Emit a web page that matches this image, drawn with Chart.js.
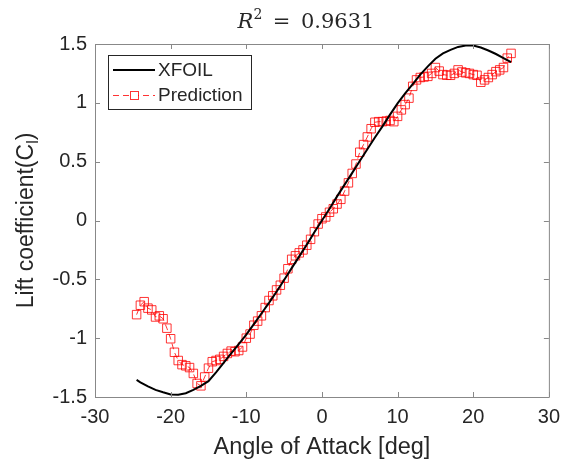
<!DOCTYPE html>
<html>
<head>
<meta charset="utf-8">
<script src="https://cdn.jsdelivr.net/npm/chart.js@4/dist/chart.umd.min.js"></script>
<style>
  html, body { margin: 0; padding: 0; background: #fff; }
  canvas { display: block; }
</style>
</head>
<body>
<canvas id="clChart" width="568" height="462"></canvas>
<script>
// XFOIL reference curve (deg, Cl)
const xfoilAlpha = [-24.5, -24, -23, -22, -21, -20, -19, -18, -17, -16, -15, -14, -13, -12, -11, -10,
  -9, -8, -7, -6, -5, -4, -3, -2, -1, 0, 1, 2, 3, 4, 5, 6, 7, 8, 9, 10,
  11, 12, 13, 14, 15, 16, 17, 18, 19, 20, 21, 22, 23, 24, 25];
const xfoilCl = [-1.355, -1.375, -1.41, -1.44, -1.46, -1.478, -1.48, -1.468, -1.44, -1.405, -1.365, -1.29, -1.21, -1.13, -1.05, -0.97,
  -0.88, -0.79, -0.70, -0.605, -0.505, -0.405, -0.305, -0.205, -0.10, 0.0, 0.10, 0.205, 0.305, 0.405, 0.505, 0.605, 0.705, 0.80, 0.90, 0.995,
  1.08, 1.16, 1.24, 1.31, 1.375, 1.42, 1.45, 1.475, 1.488, 1.487, 1.47, 1.445, 1.415, 1.38, 1.345];

// predicted Cl, one point every 0.5 deg
const predAlpha = [-24.5, -24, -23.5, -23, -22.5, -22, -21.5, -21, -20.5, -20,
  -19.5, -19, -18.5, -18, -17.5, -17, -16.5, -16, -15.5, -15,
  -14.5, -14, -13.5, -13, -12.5, -12, -11.5, -11, -10.5, -10,
  -9.5, -9, -8.5, -8, -7.5, -7, -6.5, -6, -5.5, -5,
  -4.5, -4, -3.5, -3, -2.5, -2, -1.5, -1, -0.5, 0,
  0.5, 1, 1.5, 2, 2.5, 3, 3.5, 4, 4.5, 5,
  5.5, 6, 6.5, 7, 7.5, 8, 8.5, 9, 9.5, 10,
  10.5, 11, 11.5, 12, 12.5, 13, 13.5, 14, 14.5, 15,
  15.5, 16, 16.5, 17, 17.5, 18, 18.5, 19, 19.5, 20,
  20.5, 21, 21.5, 22, 22.5, 23, 23.5, 24, 24.5, 25];
const predCl = [-0.80, -0.72, -0.69, -0.745, -0.76, -0.82, -0.81, -0.835, -0.915, -1.005,
  -1.12, -1.19, -1.225, -1.235, -1.25, -1.30, -1.385, -1.405, -1.33, -1.255,
  -1.20, -1.19, -1.18, -1.155, -1.13, -1.11, -1.115, -1.105, -1.075, -1.00,
  -0.965, -0.89, -0.855, -0.81, -0.74, -0.68, -0.64, -0.59, -0.55, -0.49,
  -0.41, -0.33, -0.30, -0.275, -0.25, -0.21, -0.16, -0.095, -0.03, 0.015,
  0.03, 0.07, 0.10, 0.14, 0.18, 0.25, 0.32, 0.40, 0.48, 0.58,
  0.645, 0.71, 0.78, 0.835, 0.84, 0.84, 0.845, 0.85, 0.84, 0.885,
  0.94, 0.985, 1.04, 1.14, 1.195, 1.215, 1.22, 1.225, 1.25, 1.30,
  1.27, 1.24, 1.235, 1.234, 1.25, 1.28, 1.262, 1.255, 1.25, 1.24,
  1.234, 1.175, 1.195, 1.215, 1.24, 1.265, 1.28, 1.30, 1.38, 1.42];

const xTicks = [-30, -20, -10, 0, 10, 20, 30];
const yTicks = [-1.5, -1, -0.5, 0, 0.5, 1, 1.5];

const textColor = '#262626';
const axisColor = '#888888';
const predColor = 'rgba(255, 0, 0, 0.8)';
const sansFont = '"Liberation Sans", Arial, sans-serif';
const serifFont = '"DejaVu Serif", serif';

Chart.defaults.font.family = sansFont;
Chart.defaults.color = textColor;

// box around the axes with inward ticks on all four sides
const framePlugin = {
  id: 'frame',
  afterDatasetsDraw(chart) {
    const { ctx, chartArea: a, scales: { x, y } } = chart;
    ctx.save();
    ctx.strokeStyle = axisColor;
    ctx.lineWidth = 1;
    ctx.beginPath();
    ctx.rect(a.left + 0.5, a.top + 0.5, a.right - a.left, a.bottom - a.top);
    x.ticks.forEach(t => {
      const px = Math.round(x.getPixelForValue(t.value)) + 0.5;
      ctx.moveTo(px, a.bottom); ctx.lineTo(px, a.bottom - 5);
      ctx.moveTo(px, a.top); ctx.lineTo(px, a.top + 5);
    });
    y.ticks.forEach(t => {
      const py = Math.round(y.getPixelForValue(t.value)) + 0.5;
      ctx.moveTo(a.left, py); ctx.lineTo(a.left + 5, py);
      ctx.moveTo(a.right, py); ctx.lineTo(a.right - 5, py);
    });
    ctx.stroke();
    ctx.restore();
  }
};

// R^2 title and y label with subscript
const textPlugin = {
  id: 'texts',
  afterDraw(chart) {
    const { ctx, chartArea: a } = chart;
    ctx.save();
    ctx.fillStyle = textColor;
    ctx.textBaseline = 'alphabetic';

    // title
    const big = '21px ' + serifFont;
    const parts = [
      { t: 'R', f: 'italic ' + big, dy: 0 },
      { t: '2', f: '14px ' + serifFont, dy: -9 },
      { t: '\u2002=\u2002', f: big, dy: 0 },
      { t: '0.9631', f: big, dy: 0 }
    ];
    let total = 0;
    parts.forEach(p => { ctx.font = p.f; p.w = ctx.measureText(p.t).width; total += p.w; });
    let tx = 306 - total / 2;
    parts.forEach(p => {
      ctx.font = p.f;
      ctx.fillText(p.t, tx, 28 + p.dy);
      tx += p.w;
    });

    // y axis label
    ctx.translate(33, (a.top + a.bottom) / 2);
    ctx.rotate(-Math.PI / 2);
    const main = '23px ' + sansFont, sub = '16px ' + sansFont;
    const segs = [
      { t: 'Lift coefficient(C', f: main, dy: 0 },
      { t: 'l', f: sub, dy: 5 },
      { t: ')', f: main, dy: 0 }
    ];
    let w = 0;
    segs.forEach(s => { ctx.font = s.f; s.w = ctx.measureText(s.t).width; w += s.w; });
    let sx = -w / 2;
    segs.forEach(s => {
      ctx.font = s.f;
      ctx.fillText(s.t, sx, s.dy);
      sx += s.w;
    });
    ctx.restore();
  }
};

// legend box in the upper left corner of the axes
const legendPlugin = {
  id: 'boxLegend',
  afterDraw(chart) {
    const { ctx, chartArea: a } = chart;
    const bx = a.left + 13, by = a.top + 11, bw = 143, bh = 54;
    ctx.save();
    ctx.fillStyle = '#fff';
    ctx.fillRect(bx, by, bw, bh);
    ctx.strokeStyle = '#262626';
    ctx.lineWidth = 1;
    ctx.strokeRect(bx + 0.5, by + 0.5, bw, bh);

    // XFOIL
    ctx.strokeStyle = '#000';
    ctx.lineWidth = 2;
    ctx.beginPath();
    ctx.moveTo(bx + 5, by + 15); ctx.lineTo(bx + 47, by + 15);
    ctx.stroke();

    // Prediction
    ctx.strokeStyle = predColor;
    ctx.lineWidth = 1;
    ctx.setLineDash([6, 4]);
    ctx.beginPath();
    ctx.moveTo(bx + 5, by + 40.5); ctx.lineTo(bx + 47, by + 40.5);
    ctx.stroke();
    ctx.setLineDash([]);
    ctx.fillStyle = '#fff';
    ctx.fillRect(bx + 22, by + 36, 8, 8);
    ctx.strokeRect(bx + 22.5, by + 36.5, 8, 8);

    ctx.fillStyle = textColor;
    ctx.font = '19px ' + sansFont;
    ctx.textBaseline = 'middle';
    ctx.fillText('XFOIL', bx + 50, by + 16);
    ctx.fillText('Prediction', bx + 50, by + 41);
    ctx.restore();
  }
};

const xfoilData = xfoilAlpha.map((a, i) => ({ x: a, y: xfoilCl[i] }));
const predData = predAlpha.map((a, i) => ({ x: a, y: predCl[i] }));

new Chart(document.getElementById('clChart'), {
  type: 'scatter',
  data: {
    datasets: [
      {
        label: 'XFOIL',
        data: xfoilData,
        showLine: true,
        borderColor: '#000',
        borderWidth: 2,
        pointRadius: 0,
        tension: 0
      },
      {
        label: 'Prediction',
        data: predData,
        showLine: true,
        borderColor: predColor,
        borderWidth: 1,
        borderDash: [6, 4],
        pointStyle: 'rect',
        pointRadius: 6,
        pointBorderWidth: 1,
        pointBorderColor: predColor,
        pointBackgroundColor: 'rgba(0,0,0,0)'
      }
    ]
  },
  options: {
    responsive: false,
    animation: false,
    events: [],
    layout: { padding: { left: 0, right: 15, top: 44, bottom: 0 } },
    plugins: {
      legend: { display: false },
      tooltip: { enabled: false },
      title: { display: false }
    },
    scales: {
      x: {
        type: 'linear',
        min: -30,
        max: 30,
        afterBuildTicks: s => { s.ticks = xTicks.map(v => ({ value: v })); },
        afterFit: s => { s.height = 65; },
        grid: { display: false, drawTicks: false },
        border: { display: false },
        ticks: { color: textColor, font: { size: 20 }, padding: 8, maxRotation: 0, callback: v => String(v) },
        title: {
          display: true,
          text: 'Angle of Attack [deg]',
          color: textColor,
          font: { size: 23.5 },
          padding: 0
        }
      },
      y: {
        type: 'linear',
        min: -1.5,
        max: 1.5,
        afterBuildTicks: s => { s.ticks = yTicks.map(v => ({ value: v })); },
        afterFit: s => { s.width = 95; },
        grid: { display: false, drawTicks: false },
        border: { display: false },
        ticks: { color: textColor, font: { size: 20 }, padding: 8, callback: v => String(v) }
      }
    }
  },
  plugins: [framePlugin, legendPlugin, textPlugin]
});
</script>
</body>
</html>
